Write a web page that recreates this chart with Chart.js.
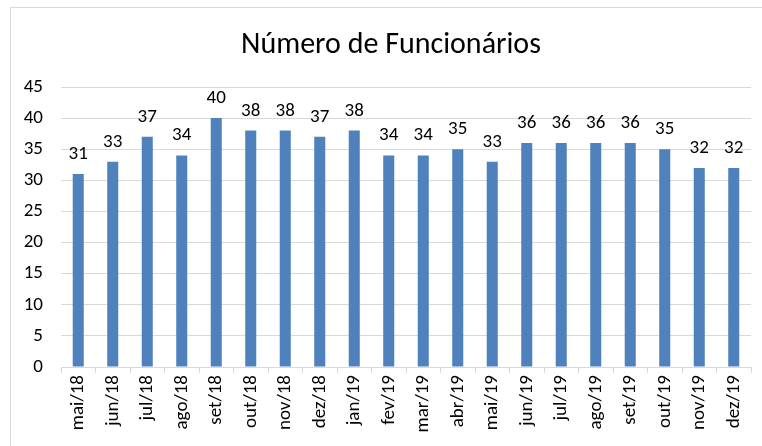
<!DOCTYPE html>
<html>
<head>
<meta charset="utf-8">
<title>Número de Funcionários</title>
<script src="https://cdn.jsdelivr.net/npm/chart.js@4"></script>
<style>
    html, body { margin: 0; padding: 0; background: #fff; }
    #wrap { position: relative; width: 762px; height: 446px; }
</style>
</head>
<body>
<div id="wrap"><canvas id="chart" width="762" height="446"></canvas></div>
<script>
    'use strict';

    // Chart data
    var chartTitle = 'Número de Funcionários';
    var months = ['mai/18', 'jun/18', 'jul/18', 'ago/18', 'set/18', 'out/18', 'nov/18', 'dez/18',
        'jan/19', 'fev/19', 'mar/19', 'abr/19', 'mai/19', 'jun/19', 'jul/19', 'ago/19',
        'set/19', 'out/19', 'nov/19', 'dez/19'];
    var employees = [31, 33, 37, 34, 40, 38, 38, 37, 38, 34, 34, 35, 33, 36, 36, 36, 36, 35, 32, 32];
    var yTicks = [0, 5, 10, 15, 20, 25, 30, 35, 40, 45];

    var FONT = 'Carlito, Lato, "Liberation Sans", sans-serif';
    var GRID = '#d9d9d9';

    /**
     * Outer frame (cropped on the right) and the chart title
     */
    var framePlugin = {
        id: 'frame',
        beforeDraw: function(chart) {
            var ctx = chart.ctx;
            ctx.save();
            ctx.fillStyle = '#fff';
            ctx.fillRect(0, 0, chart.width, chart.height);
            ctx.strokeStyle = GRID;
            ctx.lineWidth = 1;
            ctx.strokeRect(10.5, 7.5, 800, 460);

            // title centred over the frame, a bit left of the plot centre
            ctx.font = '30px ' + FONT;
            ctx.fillStyle = '#000';
            ctx.textAlign = 'center';
            ctx.textBaseline = 'middle';
            ctx.fillText(chartTitle, 391, 45);
            ctx.restore();
        }
    };

    /**
     * Value labels above each bar
     */
    var valueLabels = {
        id: 'valueLabels',
        afterDatasetsDraw: function(chart) {
            var ctx = chart.ctx;
            var meta = chart.getDatasetMeta(0);
            ctx.save();
            ctx.font = '19px ' + FONT;
            ctx.fillStyle = '#000';
            ctx.textAlign = 'center';
            ctx.textBaseline = 'alphabetic';
            meta.data.forEach(function(bar, i) {
                ctx.fillText(String(employees[i]), bar.x, bar.y - 15);
            });
            ctx.restore();
        }
    };

    new Chart(document.getElementById('chart'), {
        type: 'bar',
        data: {
            labels: months,
            datasets: [{
                data: employees,
                backgroundColor: '#4f81bd',
                borderWidth: 0,
                categoryPercentage: 1,
                barPercentage: 0.32
            }]
        },
        options: {
            responsive: false,
            animation: false,
            layout: { padding: { top: 87, right: 11, left: 0, bottom: 0 } },
            plugins: {
                legend: { display: false },
                tooltip: { enabled: false },
                title: { display: false }
            },
            scales: {
                x: {
                    grid: {
                        display: true,
                        offset: true,
                        drawOnChartArea: false,
                        drawTicks: true,
                        tickLength: 6,
                        color: GRID
                    },
                    border: { display: true, color: GRID },
                    ticks: {
                        color: '#000',
                        font: { family: FONT, size: 19 },
                        maxRotation: 90,
                        minRotation: 90,
                        autoSkip: false,
                        padding: 2
                    },
                    afterFit: function(scale) { scale.height = 79; }
                },
                y: {
                    min: 0,
                    max: 45,
                    afterBuildTicks: function(scale) {
                        scale.ticks = yTicks.map(function(v) { return { value: v }; });
                    },
                    grid: { color: GRID, drawTicks: false },
                    border: { display: false },
                    ticks: {
                        color: '#000',
                        font: { family: FONT, size: 19 },
                        padding: 18
                    },
                    afterFit: function(scale) { scale.width = 61; }
                }
            }
        },
        plugins: [framePlugin, valueLabels]
    });
</script>
</body>
</html>
